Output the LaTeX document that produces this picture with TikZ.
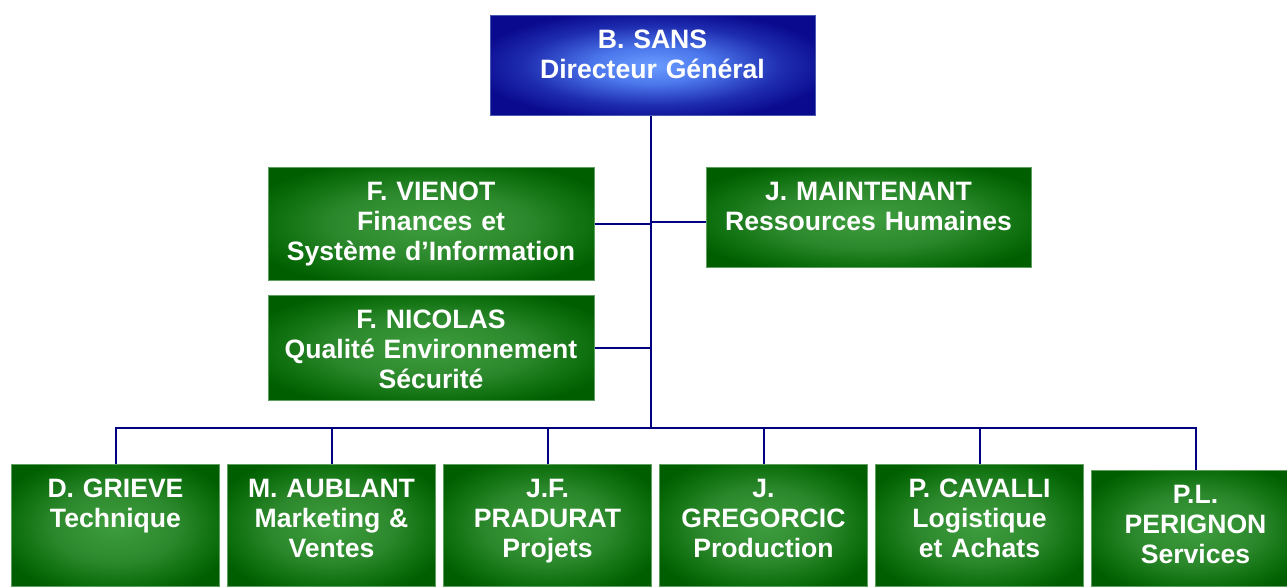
\documentclass[tikz,border=0pt]{standalone}
\usepackage{fontspec}
\setmainfont{Liberation Sans}
\definecolor{navy}{HTML}{000080}
\definecolor{bossin}{HTML}{6A9CFF}
\definecolor{bossmid}{HTML}{4C78EC}
\definecolor{bossdark}{HTML}{1E2CB0}
\definecolor{bossout}{HTML}{0A0A8E}
\definecolor{bossedge}{HTML}{4A5AB0}
\definecolor{deptin}{HTML}{3E9E3E}
\definecolor{deptmid}{HTML}{2C882C}
\definecolor{deptdark}{HTML}{0E700E}
\definecolor{deptout}{HTML}{005E00}
\definecolor{deptedge}{HTML}{5E9E5E}
\pgfdeclareradialshading{bossshade}{\pgfpoint{0bp}{0bp}}{color(0bp)=(bossin);
  color(9bp)=(bossmid); color(20bp)=(bossdark); color(28bp)=(bossout); color(50bp)=(bossout)}
\pgfdeclareradialshading{deptshade}{\pgfpoint{0bp}{0bp}}{color(0bp)=(deptin);
  color(15bp)=(deptmid); color(24bp)=(deptdark); color(30bp)=(deptout); color(50bp)=(deptout)}
\begin{document}
\begin{tikzpicture}[x=0.5pt, y=-0.5pt, font=\fontsize{13.3}{15}\selectfont\bfseries,
  orgbox/.style={anchor=north, inner sep=0pt, align=center, text=white,
    text height=16.5pt, line width=0.5pt},
  bossbox/.style={orgbox, shading=bossshade, draw=bossedge},
  deptbox/.style={orgbox, shading=deptshade, draw=deptedge},
  link/.style={draw=navy, line width=1pt}]
\useasboundingbox (0,0) rectangle (1287,586);
% general management
\node[bossbox, text width=162.5pt, text depth=33.5pt] (sans) at (652.5,15)
  {B. SANS\\Directeur Général};
% staff functions
\node[deptbox, text width=163pt, text depth=40pt] (vienot) at (431,167)
  {F. VIENOT\\Finances et\\Système d’Information};
\node[deptbox, text width=162.5pt, text depth=33.5pt] (maintenant) at (868.5,167)
  {J. MAINTENANT\\Ressources Humaines};
\node[deptbox, text width=163pt, text depth=36pt] (nicolas) at (431,295)
  {F. NICOLAS\\Qualité Environnement\\Sécurité};
% operational directors
\node[deptbox, text width=104pt, text depth=44.5pt] (grieve) at (115.5,464)
  {D. GRIEVE\\Technique};
\node[deptbox, text width=104pt, text depth=44.5pt] (aublant) at (331.5,464)
  {M. AUBLANT\\Marketing \&\\Ventes};
\node[deptbox, text width=104pt, text depth=44.5pt] (pradurat) at (547.5,464)
  {J.F.\\PRADURAT\\Projets};
\node[deptbox, text width=104pt, text depth=44.5pt] (gregorcic) at (763.5,464)
  {J.\\GREGORCIC\\Production};
\node[deptbox, text width=104pt, text depth=44.5pt] (cavalli) at (979.5,464)
  {P. CAVALLI\\Logistique\\et Achats};
\node[deptbox, text width=104pt, text depth=41.5pt] (perignon) at (1195.5,470)
  {P.L.\\PERIGNON\\Services};
% connectors
\coordinate (bus) at (651,428);
\coordinate (hr) at (651,222);
\draw[link] (sans.south -| bus) -- (bus);
\draw[link] (vienot.east) -- (vienot.east -| bus);
\draw[link] (hr) -- (maintenant.west |- hr);
\draw[link] (nicolas.east) -- (nicolas.east -| bus);
\foreach \d in {grieve,aublant,pradurat,gregorcic,cavalli,perignon}
  \draw[link] (bus) -| (\d.north);
\end{tikzpicture}
\end{document}
